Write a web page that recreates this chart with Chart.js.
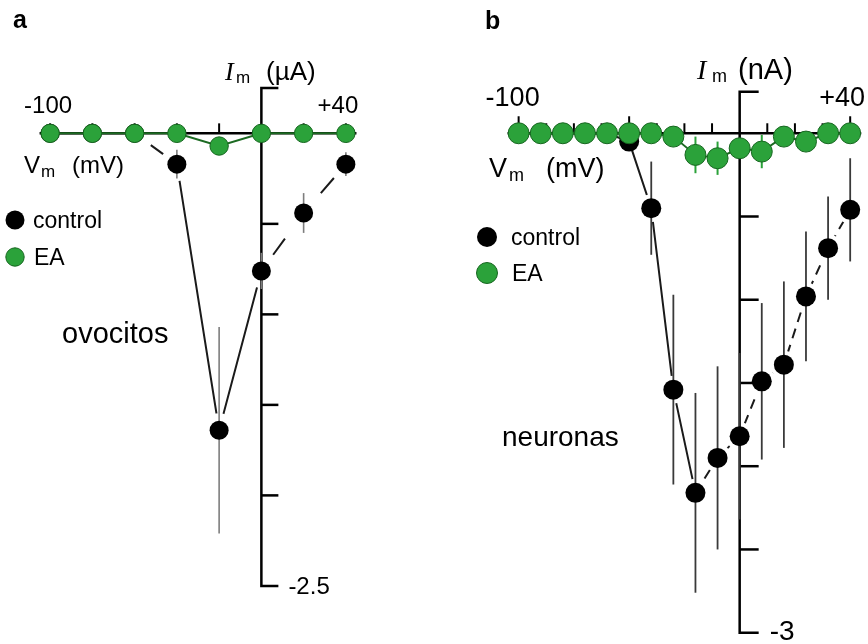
<!DOCTYPE html>
<html>
<head>
<meta charset="utf-8">
<script src="https://cdn.jsdelivr.net/npm/chart.js@4.4.0/dist/chart.umd.min.js"></script>
<style>
html,body{margin:0;padding:0;background:#fff;}
#wrap{display:flex;width:868px;height:644px;}
canvas{display:block;}
</style>
</head>
<body>
<div id="wrap">
  <canvas id="ca" width="434" height="644"></canvas>
  <canvas id="cb" width="434" height="644"></canvas>
</div>
<script>
// ---------- Panel a : ovocitos (µA) ----------
const aVoltage    = [-100, -80, -60, -40, -20, 0, 20, 40];
const aControl    = [0, 0, 0, -0.17, -1.64, -0.76, -0.44, -0.17];
const aControlErr = [0, 0, 0, 0.08, 0.57, 0.10, 0.11, 0.065];
const aEA         = [0, 0, 0, 0, -0.07, 0, 0, 0];
const aEAErr      = [0, 0, 0, 0, 0, 0, 0, 0];
const aXTicks     = [-100, -80, -60, -40, -20, 20, 40];
const aYTicks     = [-0.5, -1, -1.5, -2];
const aYEnds      = [0.25, -2.5];
const aXLabels    = ['-100', '+40'];
const aXLabelAt   = [-100, 40];
const aYLabel     = '-2.5';

// ---------- Panel b : neuronas (nA) ----------
const bVoltage    = [-80, -72, -64, -56, -48, -40, -32, -24, -16, -8, 0, 8, 16, 24, 32, 40];
const bControl    = [0, 0, 0, 0, 0, -0.05, -0.45, -1.54, -2.16, -1.95, -1.82, -1.49, -1.39, -0.98, -0.69, -0.46];
const bControlErr = [0, 0, 0, 0, 0, 0, 0.28, 0.57, 0.60, 0.55, 0.50, 0.47, 0.50, 0.39, 0.31, 0.31];
const bEA         = [0, 0, 0, 0, 0, 0, 0, -0.02, -0.13, -0.15, -0.09, -0.11, -0.02, -0.05, 0, 0];
const bEAErr      = [0, 0, 0, 0, 0, 0, 0, 0, 0.11, 0.10, 0.06, 0.10, 0, 0, 0, 0];
const bXTicksMajor = [-80, -40, 40];
const bXTicksMinor = [-70, -60, -50, -30, -20, -10, 10, 20, 30];
const bYTicks     = [-0.5, -1, -1.5, -2, -2.5];
const bYEnds      = [0.25, -3];
const bXLabels    = ['-100', '+40'];
const bXLabelAt   = [-80, 40];
const bYLabel     = '-3';

const SANS  = '"Liberation Sans", Arial, Helvetica, sans-serif';
const SERIF = '"Liberation Serif", "Times New Roman", serif';
const GREEN_FILL = '#2ba23a';
const GREEN_EDGE = '#16661f';
const GREEN_LINE = '#1c6a22';

function txt(ctx, s, x, y, font, align) {
  ctx.font = font;
  ctx.fillStyle = '#000';
  ctx.textAlign = align || 'left';
  ctx.textBaseline = 'alphabetic';
  ctx.fillText(s, x, y);
}
function seg(ctx, x1, y1, x2, y2) {
  ctx.beginPath(); ctx.moveTo(x1, y1); ctx.lineTo(x2, y2); ctx.stroke();
}

function makePanel(id, P) {
  const pts = (ys) => P.voltage.map((x, i) => ({x: x, y: ys[i]}));
  const haloR = P.control.map(v => (v < -0.1 ? P.halo : 0));

  const plugin = {
    id: 'ivAxes_' + id,
    afterDatasetDraw(chart, args) {
      if (args.index !== 1) return;   // right after the white halo layer
      const ctx = chart.ctx, xs = chart.scales.x, ys = chart.scales.y;
      const y0 = ys.getPixelForValue(0), x0 = xs.getPixelForValue(0);
      ctx.save();
      ctx.strokeStyle = '#000';
      ctx.lineWidth = 2.5;
      seg(ctx, xs.getPixelForValue(P.xFrom), y0, xs.getPixelForValue(P.xTo), y0);
      ctx.lineWidth = 2;
      P.xMajor.forEach(v => { const px = xs.getPixelForValue(v); seg(ctx, px, y0, px, y0 - P.majorLen); });
      P.xMinor.forEach(v => { const px = xs.getPixelForValue(v); seg(ctx, px, y0, px, y0 - P.minorLen); });
      ctx.lineWidth = 2.5;
      ctx.lineJoin = 'miter';
      const yt = ys.getPixelForValue(P.yEnds[0]), yb = ys.getPixelForValue(P.yEnds[1]);
      ctx.beginPath();
      ctx.moveTo(x0 + P.yTickLen, yt); ctx.lineTo(x0, yt); ctx.lineTo(x0, yb); ctx.lineTo(x0 + P.yTickLen, yb);
      ctx.stroke();
      P.yTicks.forEach(v => { const py = ys.getPixelForValue(v); seg(ctx, x0, py, x0 + P.yTickLen, py); });
      ctx.lineCap = 'butt';
      ctx.strokeStyle = P.errColor; ctx.lineWidth = P.errWidth;
      P.voltage.forEach((v, i) => {
        const e = P.controlErr[i]; if (!e) return;
        const px = xs.getPixelForValue(v);
        seg(ctx, px, ys.getPixelForValue(P.control[i] + e), px, ys.getPixelForValue(P.control[i] - e));
      });
      ctx.strokeStyle = GREEN_FILL; ctx.lineWidth = 2;
      P.voltage.forEach((v, i) => {
        const e = P.eaErr[i]; if (!e) return;
        const px = xs.getPixelForValue(v);
        seg(ctx, px, ys.getPixelForValue(P.ea[i] + e), px, ys.getPixelForValue(P.ea[i] - e));
      });
      ctx.restore();
    },
    afterDraw(chart) {
      const ctx = chart.ctx, xs = chart.scales.x, ys = chart.scales.y;
      const T = P.text;
      ctx.save();
      txt(ctx, T.letter, T.letterX, T.letterY, 'bold 25px ' + SANS);
      txt(ctx, 'I', T.iX, T.iY, 'italic ' + T.iSize + 'px ' + SERIF);
      txt(ctx, 'm', T.imX, T.iY + 3, T.subSize + 'px ' + SANS);
      txt(ctx, T.unitI, T.unitIX, T.iY, T.unitSize + 'px ' + SANS);
      P.xLabels.forEach((s, i) => {
        txt(ctx, s, xs.getPixelForValue(P.xLabelAt[i]) + T.xLabDx[i], T.xLabY, T.tickSize + 'px ' + SANS, 'center');
      });
      txt(ctx, 'V', T.vX, T.vY, T.vSize + 'px ' + SANS);
      txt(ctx, 'm', T.vmX, T.vY + 4, T.subSize + 'px ' + SANS);
      txt(ctx, '(mV)', T.vUnitX, T.vY, T.vSize + 'px ' + SANS);
      txt(ctx, P.yLabel, xs.getPixelForValue(0) + T.yLabDx, ys.getPixelForValue(P.yEnds[1]) + T.yLabDy, T.yLabSize + 'px ' + SANS);
      ctx.fillStyle = '#000';
      ctx.beginPath(); ctx.arc(T.legX, T.legY1, P.rCtrl, 0, Math.PI * 2); ctx.fill();
      txt(ctx, 'control', T.legTX, T.legY1 + 8, '23px ' + SANS);
      ctx.fillStyle = GREEN_FILL; ctx.strokeStyle = GREEN_EDGE; ctx.lineWidth = 1;
      ctx.beginPath(); ctx.arc(T.legX, T.legY2, P.rEA, 0, Math.PI * 2); ctx.fill(); ctx.stroke();
      txt(ctx, 'EA', T.legTX + 1, T.legY2 + 8, '23px ' + SANS);
      txt(ctx, T.cell, T.cellX, T.cellY, T.cellSize + 'px ' + SANS);
      ctx.restore();
    }
  };

  return new Chart(document.getElementById(id), {
    type: 'line',
    data: {
      datasets: [
        { label: 'control line', data: pts(P.control), showLine: true,
          borderColor: '#1a1a1a', borderWidth: 2, pointRadius: 0, fill: false, order: 5, clip: false,
          segment: {
            borderDash: c => (P.dashedSeg[c.p0DataIndex] ? P.dash : []),
            borderDashOffset: c => (P.dashedSeg[c.p0DataIndex] ? P.dashOffset : 0)
          } },
        { label: 'halo', data: pts(P.control), showLine: false,
          pointRadius: haloR, pointBackgroundColor: '#ffffff', pointBorderWidth: 0, order: 4, clip: false },
        { label: 'control', data: pts(P.control), showLine: false,
          pointRadius: P.rCtrl, pointBackgroundColor: '#000', pointBorderColor: '#000', pointBorderWidth: 0, order: 3, clip: false },
        { label: 'EA', data: pts(P.ea), showLine: true,
          borderColor: GREEN_LINE, borderWidth: 2, pointRadius: P.rEA,
          pointBackgroundColor: GREEN_FILL, pointBorderColor: GREEN_EDGE, pointBorderWidth: 1, order: 2, clip: false }
      ]
    },
    options: {
      responsive: false, animation: false, events: [],
      layout: { padding: P.pad, autoPadding: false },
      elements: { line: { tension: 0 } },
      scales: {
        x: { type: 'linear', min: P.xMin, max: P.xMax, display: false },
        y: { type: 'linear', min: P.yMin, max: P.yMax, display: false }
      },
      plugins: { legend: { display: false }, tooltip: { enabled: false } }
    },
    plugins: [plugin]
  });
}

makePanel('ca', {
  voltage: aVoltage, control: aControl, controlErr: aControlErr, ea: aEA, eaErr: aEAErr,
  xMajor: [], xMinor: aXTicks, yTicks: aYTicks, yEnds: aYEnds,
  xLabels: aXLabels, xLabelAt: aXLabelAt, yLabel: aYLabel,
  xMin: -110, xMax: 50, yMin: -2.6, yMax: 0.35,
  pad: { left: 29, right: 67, top: 70, bottom: 40 },
  xFrom: -105, xTo: 45, majorLen: 10, minorLen: 10, yTickLen: 17,
  rCtrl: 9.5, rEA: 9.2, halo: 17,
  dashedSeg: [false, false, true, false, false, true, true], dash: [20, 19], dashOffset: 19,
  errColor: '#7d7d7d', errWidth: 1.6,
  text: {
    letter: 'a', letterX: 13, letterY: 28,
    iX: 225, iY: 80, iSize: 26, imX: 236, subSize: 17, unitI: '(\u00B5A)', unitIX: 266, unitSize: 26,
    xLabY: 113, tickSize: 24, xLabDx: [-2, -8],
    vX: 24, vY: 173, vSize: 24, vmX: 41, vUnitX: 72,
    yLabDx: 27, yLabDy: 8, yLabSize: 24,
    legX: 15, legY1: 220, legY2: 257, legTX: 33,
    cell: 'ovocitos', cellX: 62, cellY: 343, cellSize: 29
  }
});

makePanel('cb', {
  voltage: bVoltage, control: bControl, controlErr: bControlErr, ea: bEA, eaErr: bEAErr,
  xMajor: bXTicksMajor, xMinor: bXTicksMinor, yTicks: bYTicks, yEnds: bYEnds,
  xLabels: bXLabels, xLabelAt: bXLabelAt, yLabel: bYLabel,
  xMin: -90, xMax: 45, yMin: -3.05, yMax: 0.35,
  pad: { left: 57, right: 4, top: 75, bottom: 3 },
  xFrom: -84, xTo: 44, majorLen: 17, minorLen: 10, yTickLen: 19,
  rCtrl: 10, rEA: 10.5, halo: 14,
  dashedSeg: [false, false, false, false, false, false, false, false, true, true, true, true, true, true, true], dash: [10, 7], dashOffset: 0,
  errColor: '#3a3a3a', errWidth: 1.8,
  text: {
    letter: 'b', letterX: 51, letterY: 29,
    iX: 263, iY: 79, iSize: 28, imX: 278, subSize: 18, unitI: '(nA)', unitIX: 304, unitSize: 29,
    xLabY: 106, tickSize: 27, xLabDx: [-6, -8],
    vX: 55, vY: 177, vSize: 27, vmX: 75, vUnitX: 112,
    yLabDx: 30, yLabDy: 7, yLabSize: 28,
    legX: 53, legY1: 237, legY2: 273, legTX: 77,
    cell: 'neuronas', cellX: 68, cellY: 446, cellSize: 28
  }
});
</script>
</body>
</html>
